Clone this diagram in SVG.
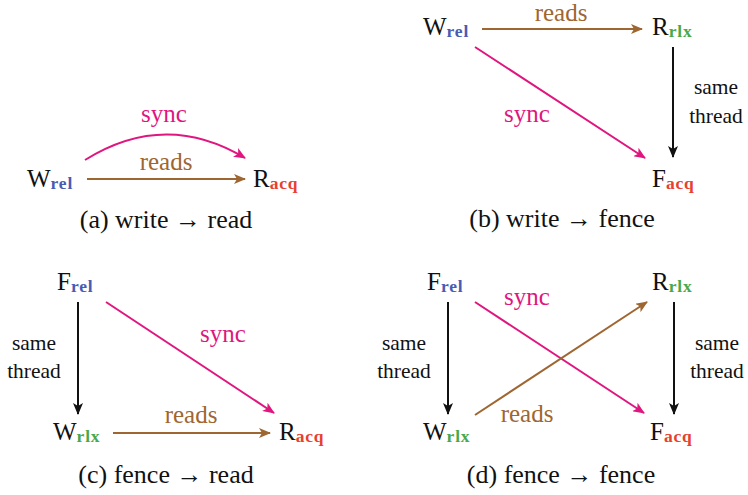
<svg xmlns="http://www.w3.org/2000/svg" width="748" height="495" viewBox="0 0 748 495">
<style>
  text { fill: #111; }
  .n { font-size: 25px; }
  .sub { font-weight: bold; font-size: 17.5px; letter-spacing: 0.8px; }
  .rel { fill: #4a5bb3; }
  .acq { fill: #e8402e; }
  .rlx { fill: #4aa84a; }
  .lbl { font-size: 25px; text-anchor: middle; }
  .small { font-size: 21.5px; text-anchor: middle; }
  .cap { font-size: 26px; text-anchor: middle; }
  .tsync { fill: #e0157e; }
  .treads { fill: #9e6631; }
  .e { fill: none; stroke-width: 2; }
  .sync { stroke: #e0157e; marker-end: url(#hs); }
  .reads { stroke: #9e6631; marker-end: url(#hr); }
  .st { stroke: #111; marker-end: url(#hb); }
</style>
<defs>
  <marker id="hs" viewBox="0 0 12 10" markerWidth="12" markerHeight="10" refX="11" refY="5" orient="auto" markerUnits="userSpaceOnUse"><path d="M0,0 L12,5 L0,10 L3,5 Z" fill="#e0157e"/></marker>
  <marker id="hr" viewBox="0 0 12 10" markerWidth="12" markerHeight="10" refX="11" refY="5" orient="auto" markerUnits="userSpaceOnUse"><path d="M0,0 L12,5 L0,10 L3,5 Z" fill="#9e6631"/></marker>
  <marker id="hb" viewBox="0 0 12 10" markerWidth="12" markerHeight="10" refX="11" refY="5" orient="auto" markerUnits="userSpaceOnUse"><path d="M0,0 L12,5 L0,10 L3,5 Z" fill="#111"/></marker>
</defs>

<g id="connectors">
  <path class="e sync" d="M85,160 Q165,110 245,158"/>
  <path class="e reads" d="M87,179 L245,179"/>
  <path class="e reads" d="M482,29 L642,29"/>
  <path class="e sync" d="M475,47 L645,158"/>
  <path class="e st" d="M673,47 L673,157"/>
  <path class="e st" d="M78,302 L78,414"/>
  <path class="e sync" d="M106,302 L274,413"/>
  <path class="e reads" d="M113,433 L270,433"/>
  <path class="e st" d="M448,302 L448,414"/>
  <path class="e st" d="M674,302 L674,414"/>
  <path class="e sync" d="M475,302 L644,413"/>
  <path class="e reads" d="M475,415 L647,302"/>
</g>

<g font-family="'Liberation Serif', 'DejaVu Serif', 'Times New Roman', Times, serif">
<g id="edge-labels">
  <text class="lbl tsync" x="164" y="122">sync</text>
  <text class="lbl treads" x="166" y="170">reads</text>
  <text class="lbl treads" x="561" y="21">reads</text>
  <text class="lbl tsync" x="527" y="122">sync</text>
  <text class="small" x="716" y="94">same</text>
  <text class="small" x="716" y="123">thread</text>
  <text class="small" x="34" y="350">same</text>
  <text class="small" x="34" y="378">thread</text>
  <text class="lbl tsync" x="223" y="342">sync</text>
  <text class="lbl treads" x="191" y="423">reads</text>
  <text class="small" x="404" y="350">same</text>
  <text class="small" x="404" y="378">thread</text>
  <text class="small" x="717" y="350">same</text>
  <text class="small" x="717" y="378">thread</text>
  <text class="lbl tsync" x="527" y="305">sync</text>
  <text class="lbl treads" x="527" y="422">reads</text>
</g>

<g id="a-Wrel"><text class="n" x="27" y="187">W<tspan class="sub rel" dy="2">rel</tspan></text></g>
<g id="a-Racq"><text class="n" x="253" y="187">R<tspan class="sub acq" dy="2">acq</tspan></text></g>
<g id="b-Wrel"><text class="n" x="423" y="35">W<tspan class="sub rel" dy="2">rel</tspan></text></g>
<g id="b-Rrlx"><text class="n" x="652" y="35">R<tspan class="sub rlx" dy="2">rlx</tspan></text></g>
<g id="b-Facq"><text class="n" x="652" y="187">F<tspan class="sub acq" dy="2">acq</tspan></text></g>
<g id="c-Frel"><text class="n" x="57" y="290">F<tspan class="sub rel" dy="2">rel</tspan></text></g>
<g id="c-Wrlx"><text class="n" x="53" y="440">W<tspan class="sub rlx" dy="2">rlx</tspan></text></g>
<g id="c-Racq"><text class="n" x="279" y="440">R<tspan class="sub acq" dy="2">acq</tspan></text></g>
<g id="d-Frel"><text class="n" x="427" y="290">F<tspan class="sub rel" dy="2">rel</tspan></text></g>
<g id="d-Wrlx"><text class="n" x="423" y="440">W<tspan class="sub rlx" dy="2">rlx</tspan></text></g>
<g id="d-Rrlx"><text class="n" x="652" y="290">R<tspan class="sub rlx" dy="2">rlx</tspan></text></g>
<g id="d-Facq"><text class="n" x="650" y="440">F<tspan class="sub acq" dy="2">acq</tspan></text></g>

<g id="captions">
  <text class="cap" x="166" y="228">(a) write → read</text>
  <text class="cap" x="562" y="227">(b) write → fence</text>
  <text class="cap" x="166" y="483">(c) fence → read</text>
  <text class="cap" x="561" y="483">(d) fence → fence</text>
</g>
</g>
</svg>
